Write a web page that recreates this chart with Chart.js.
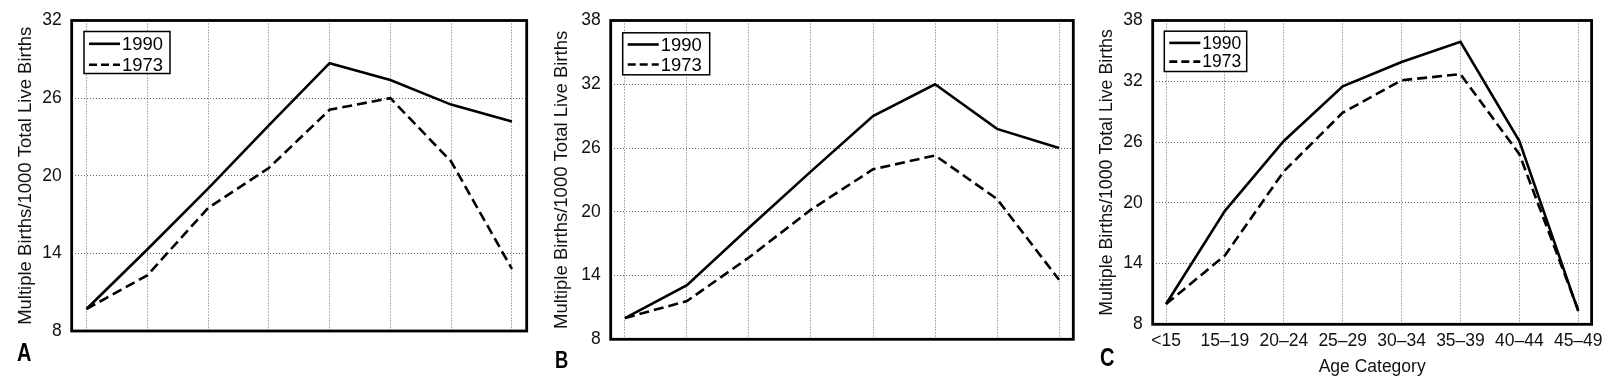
<!DOCTYPE html>
<html>
<head>
<meta charset="utf-8">
<script src="https://cdn.jsdelivr.net/npm/chart.js@4.4.1/dist/chart.umd.min.js"></script>
<style>
  html, body { margin: 0; padding: 0; background: #fff; overflow: hidden; }
  body { width: 1616px; height: 376px; position: relative; }
  canvas { position: absolute; top: 0; }
  .tag {
    position: absolute;
    font-family: "Liberation Sans", Arial, sans-serif;
    font-weight: bold; color: #000;
    transform: scaleX(0.8); transform-origin: left top;
  }
</style>
</head>
<body>
<canvas id="panelA" width="540" height="376" style="left:0px"></canvas>
<canvas id="panelB" width="540" height="376" style="left:540px"></canvas>
<canvas id="panelC" width="540" height="390" style="left:1076px"></canvas>
<div class="tag" style="left:17px;top:340px;font-size:25px;line-height:25px">A</div>
<div class="tag" style="left:555px;top:349px;font-size:23px;line-height:23px">B</div>
<div class="tag" style="left:1100px;top:345px;font-size:25px;line-height:25px">C</div>

<script>
Chart.defaults.font.family = '"Liberation Sans", Arial, Helvetica, sans-serif';
Chart.defaults.color = '#111';

// data
const ageCategories = ['<15', '15\u201319', '20\u201324', '25\u201329', '30\u201334', '35\u201339', '40\u201344', '45\u201349'];
const seriesNames = ['1990', '1973'];

const panelA1990 = [9.7, 14.3, 19.0, 23.9, 28.7, 27.4, 25.5, 24.2];
const panelA1973 = [9.7, 12.3, 17.5, 20.6, 25.1, 26.0, 21.1, 12.8];
const panelB1990 = [10.0, 13.1, 18.5, 23.8, 29.0, 32.0, 27.8, 26.0];
const panelB1973 = [10.0, 11.6, 15.7, 20.2, 24.0, 25.3, 21.2, 13.6];
const panelC1990 = [10.0, 19.2, 26.1, 31.5, 33.9, 35.9, 26.1, 9.3];
const panelC1973 = [10.0, 14.8, 23.1, 28.9, 32.1, 32.7, 24.8, 9.4];

const yTicksA = [8, 14, 20, 26, 32];
const yTicksBC = [8, 14, 20, 26, 32, 38];

// legend box inside the plot + heavy frame round the plot area
const boxPlugin = {
  id: 'box',
  afterDraw(chart, args, opts) {
    const { ctx, chartArea: a } = chart;
    const lg = opts.legend;
    ctx.save();
    const lx = a.left + lg.dx, ly = a.top + lg.dy;
    ctx.fillStyle = '#fff';
    ctx.fillRect(lx, ly, lg.w, lg.h);
    ctx.setLineDash([]);
    ctx.lineWidth = 1.5;
    ctx.strokeStyle = '#000';
    ctx.strokeRect(lx, ly, lg.w, lg.h);
    ctx.font = lg.font + 'px "Liberation Sans", Arial, sans-serif';
    ctx.textBaseline = 'middle';
    ctx.fillStyle = '#000';
    chart.data.datasets.forEach((ds, i) => {
      const y = ly + lg.row0 + i * lg.gap;
      ctx.lineWidth = ds.borderWidth;
      ctx.setLineDash(ds.borderDash ? [8, 4] : []);
      ctx.beginPath();
      ctx.moveTo(lx + 5, y);
      ctx.lineTo(lx + 36, y);
      ctx.stroke();
      ctx.fillText(ds.label, lx + 38, y + 1);
    });
    ctx.setLineDash([]);
    ctx.lineWidth = 2.8;
    ctx.strokeRect(a.left, a.top, a.right - a.left, a.bottom - a.top);
    ctx.restore();
  }
};

function makePanel(id, s1990, s1973, yTicks, o) {
  const toPts = arr => arr.map((v, i) => ({ x: i, y: v }));
  return new Chart(document.getElementById(id), {
    type: 'line',
    data: {
      datasets: [{
        label: seriesNames[0],
        data: toPts(s1990),
        borderColor: '#000', borderWidth: 2.6, pointRadius: 0, tension: 0
      }, {
        label: seriesNames[1],
        data: toPts(s1973),
        borderColor: '#000', borderWidth: 2.6, borderDash: [10, 5], pointRadius: 0, tension: 0
      }]
    },
    options: {
      responsive: false,
      animation: false,
      devicePixelRatio: 1,
      layout: { padding: { top: o.top, right: o.right, left: 0, bottom: 0 } },
      plugins: { legend: { display: false }, tooltip: { enabled: false }, box: { legend: o.legend } },
      scales: {
        x: {
          type: 'linear',
          min: -o.xPad,
          max: ageCategories.length - 1 + o.xPad,
          afterBuildTicks: s => { s.ticks = ageCategories.map((c, i) => ({ value: i })); },
          afterFit: s => { s.height = o.xHeight; },
          grid: { color: '#666', lineWidth: 1, drawTicks: false },
          border: { display: false, dash: [1, 2] },
          ticks: {
            display: o.showX, padding: 6, autoSkip: false, maxRotation: 0,
            font: { size: 17.5 }, color: '#111',
            callback: v => ageCategories[v]
          },
          title: {
            display: o.showX, text: 'Age Category', color: '#111',
            font: { size: 17.5 }, padding: { top: 0, bottom: 12 }
          }
        },
        y: {
          min: yTicks[0],
          max: yTicks[yTicks.length - 1],
          afterBuildTicks: s => { s.ticks = yTicks.map(v => ({ value: v })); },
          afterFit: s => { s.width = o.yWidth; },
          grid: { color: '#666', lineWidth: 1, drawTicks: false },
          border: { display: false, dash: [1, 2] },
          ticks: { padding: 10, font: { size: 17.5 }, color: '#111' },
          title: {
            display: true, text: 'Multiple Births/1000 Total Live Births', color: '#111',
            font: { size: o.titleSize }, padding: { top: o.titlePad, bottom: 0 }
          }
        }
      }
    },
    plugins: [boxPlugin]
  });
}

makePanel('panelA', panelA1990, panelA1973, yTicksA, {
  top: 15.7, right: 13.3, yWidth: 71.7, xHeight: 45, xPad: 0.243, showX: false,
  titleSize: 18.5, titlePad: 15,
  legend: { dx: 12.3, dy: 11, w: 86, h: 42, row0: 12.3, gap: 21, font: 18.4 }
});
makePanel('panelB', panelB1990, panelB1973, yTicksBC, {
  top: 16.7, right: 6.7, yWidth: 70.7, xHeight: 36.7, xPad: 0.23, showX: false,
  titleSize: 18.5, titlePad: 11,
  legend: { dx: 12, dy: 12.3, w: 87, h: 42, row0: 11.7, gap: 20, font: 18.4 }
});
makePanel('panelC', panelC1990, panelC1973, yTicksBC, {
  top: 20, right: 24.4, yWidth: 76.7, xHeight: 65.7, xPad: 0.227, showX: true,
  titleSize: 17.8, titlePad: 20,
  legend: { dx: 11.6, dy: 10.7, w: 82.4, h: 40.3, row0: 11.7, gap: 18.7, font: 17.5 }
});
</script>
</body>
</html>
